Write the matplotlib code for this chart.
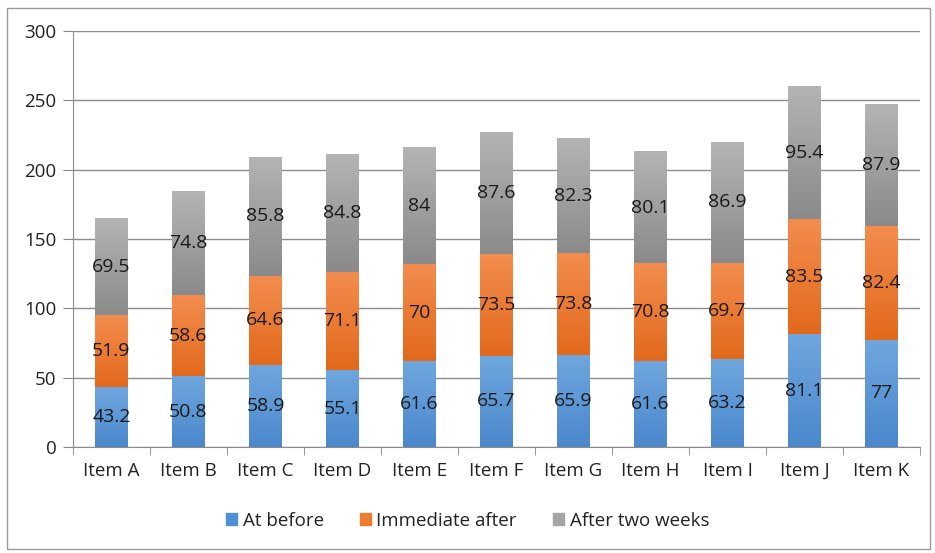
import numpy as np
import matplotlib.pyplot as plt
from matplotlib.colors import LinearSegmentedColormap
from matplotlib.patches import Rectangle, Patch

plt.rcParams['font.family'] = ['Open Sans', 'DejaVu Sans']

items = ['Item A', 'Item B', 'Item C', 'Item D', 'Item E', 'Item F',
         'Item G', 'Item H', 'Item I', 'Item J', 'Item K']
at_before = [43.2, 50.8, 58.9, 55.1, 61.6, 65.7, 65.9, 61.6, 63.2, 81.1, 77]
immediate_after = [51.9, 58.6, 64.6, 71.1, 70, 73.5, 73.8, 70.8, 69.7, 83.5, 82.4]
after_two_weeks = [69.5, 74.8, 85.8, 84.8, 84, 87.6, 82.3, 80.1, 86.9, 95.4, 87.9]

series = [('At before', at_before, '#4a88cc', '#6fa6de', '#4f8fd4'),
          ('Immediate after', immediate_after, '#e2691c', '#f38d4e', '#ed7d31'),
          ('After two weeks', after_two_weeks, '#8a8a8a', '#b4b4b4', '#a5a5a5')]

fig = plt.figure(figsize=(9.35, 5.53), dpi=100)
ax = fig.add_axes([0.078, 0.192, 0.906, 0.752])

x = np.arange(len(items))
bottom = np.zeros(len(items))
grad = np.linspace(0, 1, 256).reshape(-1, 1)
for name, vals, dark, light, mid in series:
    bars = ax.bar(x, vals, 0.42, bottom=bottom, color='none', zorder=2)
    cmap = LinearSegmentedColormap.from_list(name, [dark, light])
    for b, v, b0 in zip(bars, vals, bottom):
        x0, y0 = b.get_x(), b.get_y()
        ax.imshow(grad, cmap=cmap, origin='lower', aspect='auto',
                  extent=[x0, x0 + b.get_width(), y0, y0 + b.get_height()],
                  zorder=2)
        ax.text(b.get_x() + b.get_width() / 2, b0 + v / 2, f'{v:g}',
                ha='center', va='center', fontsize=14, color='#1a1a1a', zorder=3)
    bottom = bottom + np.array(vals)

ax.set_xlim(-0.5, len(items) - 0.5)
ax.set_ylim(0, 300)
ax.set_yticks(range(0, 301, 50))
ax.set_xticks(x)
ax.set_xticklabels(items)
ax.set_xticks(np.arange(-0.5, len(items), 1), minor=True)
ax.tick_params(axis='x', which='major', length=0, pad=11, labelsize=13.5, labelcolor='#222222')
ax.tick_params(axis='x', which='minor', length=6, color='#888888')
ax.tick_params(axis='y', length=7, color='#888888', labelsize=13.5, pad=5, labelcolor='#222222')
ax.grid(axis='y', color='#8c8c8c', linewidth=1, zorder=0)
ax.set_axisbelow(True)
for s in ['top', 'right']:
    ax.spines[s].set_visible(False)
for s in ['left', 'bottom']:
    ax.spines[s].set_color('#8c8c8c')

handles = [Patch(color=s[4], label=s[0]) for s in series]
fig.legend(handles=handles, loc='center', bbox_to_anchor=(0.5, 0.058), ncol=3,
           frameon=False, fontsize=13.5, handlelength=0.6, handleheight=0.6,
           handletextpad=0.3, columnspacing=1.9, labelcolor='#222222')

fig.patches.append(Rectangle((0.0075, 0.008), 0.987, 0.978, transform=fig.transFigure,
                             fill=False, edgecolor='#9a9a9a', linewidth=1))

fig.savefig('out.png', dpi=100)
